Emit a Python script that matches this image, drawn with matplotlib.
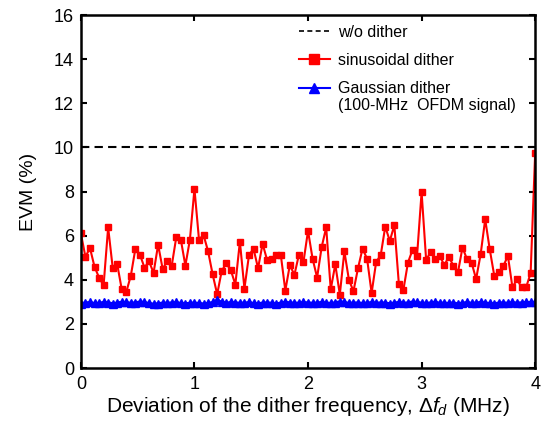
import numpy as np
import matplotlib.pyplot as plt
from matplotlib.lines import Line2D

plt.rcParams['font.family'] = ['Liberation Sans', 'DejaVu Sans']
plt.rcParams['mathtext.fontset'] = 'custom'
plt.rcParams['mathtext.it'] = 'Liberation Sans:italic'
plt.rcParams['mathtext.rm'] = 'Liberation Sans'

# frequency offset of the dither (MHz), 0.04 MHz steps
df = np.linspace(0, 4, 101)

# EVM with sinusoidal dither (%)
evm_sin = [
    6.10, 5.04, 5.44, 4.59, 4.10, 3.75, 6.37, 4.55, 4.70, 3.56,
    3.45, 4.19, 5.41, 5.14, 4.55, 4.84, 4.31, 5.59, 4.49, 4.84,
    4.64, 5.93, 5.82, 4.64, 5.82, 8.12, 5.82, 6.03, 5.29, 4.25,
    3.34, 4.40, 4.74, 4.44, 3.78, 5.73, 3.60, 5.11, 5.41, 4.52,
    5.63, 4.89, 4.93, 5.11, 5.14, 3.51, 4.67, 4.22, 5.14, 4.81,
    6.22, 4.96, 4.10, 5.48, 6.37, 3.56, 4.70, 3.33, 5.29, 4.00,
    3.48, 4.52, 5.41, 4.95, 3.40, 4.81, 5.11, 6.41, 5.76, 6.47,
    3.80, 3.55, 4.78, 5.35, 5.08, 7.97, 4.90, 5.26, 4.96, 5.08,
    4.66, 5.05, 4.63, 4.33, 5.46, 4.93, 4.78, 4.03, 5.16, 6.74,
    5.38, 4.18, 4.33, 4.63, 5.08, 3.65, 4.03, 3.65, 3.65, 4.30,
    9.74,
]

# EVM with Gaussian dither (%)
evm_gauss = [
    2.92, 2.96, 2.97, 2.93, 2.94, 2.98, 2.96, 2.92, 2.95, 2.99,
    2.97, 2.94, 2.96, 3.00, 2.97, 2.93, 2.90, 2.92, 2.95, 2.94,
    2.96, 2.97, 2.93, 2.92, 2.94, 2.95, 2.93, 2.91, 2.94, 2.97,
    3.07, 2.99, 2.95, 2.97, 2.96, 2.94, 2.95, 2.97, 2.93, 2.92,
    2.95, 2.96, 2.94, 2.91, 2.95, 2.99, 2.96, 2.94, 2.95, 2.97,
    2.96, 2.94, 2.95, 2.98, 2.95, 2.93, 2.96, 3.01, 2.97, 2.94,
    2.95, 2.96, 2.93, 2.95, 2.97, 2.94, 2.96, 2.95, 2.92, 2.95,
    2.98, 2.94, 2.96, 3.00, 2.97, 2.95, 2.93, 2.96, 2.99, 2.94,
    2.95, 2.93, 2.96, 2.91, 2.95, 2.97, 2.94, 2.95, 2.98, 2.95,
    2.93, 2.92, 2.95, 2.96, 2.94, 2.97, 2.95, 2.96, 2.98, 2.97,
    2.98,
]

# EVM without dither (%)
evm_none = 10.0

fig = plt.figure(figsize=(5.54, 4.23), dpi=100)
ax = fig.add_axes([0.146, 0.130, 0.82, 0.8345])

ax.plot([df[0], df[-1]], [evm_none, evm_none], color='black', lw=1.5,
        ls=(0, (4, 2.5)))
ax.plot(df, evm_sin, color='#ff0000', lw=1.5, marker='s', ms=4.5,
        mec='#ff0000')
ax.plot(df, evm_gauss, color='#0000ff', lw=2, marker='^', ms=5.5,
        mec='#0000ff')

ax.set_xlim(0, 4)
ax.set_ylim(0, 16)
ax.set_xticks([0, 1, 2, 3, 4])
ax.set_yticks(np.arange(0, 17, 2))
ax.tick_params(direction='in', length=4, width=1.5, labelsize=13,
               top=True, right=True)
ax.tick_params(axis='x', pad=6)
ax.tick_params(axis='y', pad=5)
for s in ax.spines.values():
    s.set_linewidth(1.8)

ax.set_ylabel('EVM (%)', fontsize=14, labelpad=12)
ax.set_xlabel(r'Deviation of the dither frequency, $\Delta f_d$ (MHz)',
              fontsize=15, labelpad=1)

handles = [
    Line2D([], [], color='black', lw=1.2, ls=(0, (3, 2))),
    Line2D([], [], color='#ff0000', lw=1.5, marker='s', ms=7),
    Line2D([], [], color='#0000ff', lw=1.5, marker='^', ms=7),
]
labels = ['w/o dither', 'sinusoidal dither', 'Gaussian dither']
leg = ax.legend(handles, labels, loc='upper left', frameon=False,
                fontsize=11.5, handlelength=2.0, handletextpad=0.5,
                labelspacing=0.82, bbox_to_anchor=(0.465, 0.99),
                borderaxespad=0.0)

# second line of the Gaussian entry, set under its label
fig.canvas.draw()
bb = leg.get_texts()[2].get_window_extent()
x0, y0 = ax.transAxes.inverted().transform((bb.x0, bb.y0))
ax.text(x0, y0 - 0.004, '(100-MHz  OFDM signal)', transform=ax.transAxes,
        fontsize=11.5, ha='left', va='top')

fig.savefig('out.png', dpi=100)
